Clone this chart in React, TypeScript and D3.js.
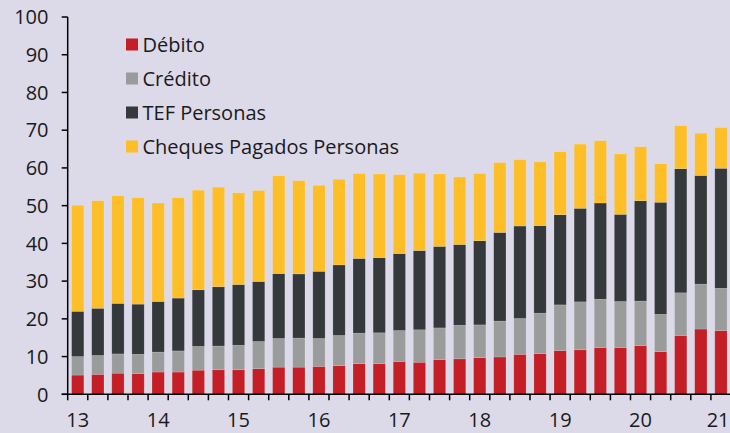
import React from "react";
import * as d3 from "d3";

const W = 730;
const H = 433;

const years = ["13", "14", "15", "16", "17", "18", "19", "20", "21"];
// 33 quarterly bars (2013 Q1 … 2021 Q1)
const quarters: string[] = [];
for (let y = 13; y <= 21; y++) {
  for (let q = 1; q <= 4; q++) {
    if (y === 21 && q > 1) break;
    quarters.push(`${y}-Q${q}`);
  }
}

const debito = [5.1, 5.3, 5.6, 5.5, 5.9, 5.9, 6.4, 6.5, 6.5, 6.8, 7.2, 7.2, 7.4, 7.6, 8.1, 8.1, 8.7, 8.5, 9.2, 9.4, 9.7, 9.9, 10.6, 10.8, 11.6, 11.8, 12.4, 12.4, 12.9, 11.3, 15.6, 17.3, 16.9];
const credito = [4.9, 5.0, 5.1, 5.1, 5.3, 5.6, 6.3, 6.3, 6.5, 7.2, 7.6, 7.7, 7.4, 8.0, 8.1, 8.2, 8.2, 8.6, 8.4, 8.9, 8.7, 9.5, 9.5, 10.7, 12.1, 12.7, 12.8, 12.2, 11.8, 9.9, 11.3, 11.9, 11.2];
const tef = [12.0, 12.5, 13.4, 13.3, 13.4, 14.0, 15.0, 15.7, 16.1, 15.9, 17.2, 17.0, 17.8, 18.7, 19.8, 19.9, 20.4, 21.0, 21.6, 21.4, 22.3, 23.5, 24.5, 23.2, 23.9, 24.8, 25.5, 23.1, 26.6, 29.7, 32.9, 28.8, 31.8];
const cheques = [28.1, 28.5, 28.5, 28.2, 26.1, 26.6, 26.4, 26.4, 24.3, 24.1, 25.9, 24.7, 22.8, 22.7, 22.5, 22.2, 20.9, 20.5, 19.2, 17.9, 17.8, 18.5, 17.6, 16.9, 16.7, 17.0, 16.5, 16.0, 14.3, 10.2, 11.4, 11.2, 10.8];

const seriesNames = ["Débito", "Crédito", "TEF Personas", "Cheques Pagados Personas"];
const seriesKeys = ["debito", "credito", "tef", "cheques"];
const colors = ["#c41f26", "#9a9c9c", "#36393c", "#fdbe28"];
const yTicks = [0, 10, 20, 30, 40, 50, 60, 70, 80, 90, 100];

const FONT = "'Open Sans', 'Noto Sans', sans-serif";

export default function App() {
  const left = 67.7;
  const bw = 20.1;
  const right = left + bw * quarters.length;
  const top = 17;
  const bottom = 394.3;

  const x = d3.scaleBand<string>().domain(quarters).range([left, right]).paddingInner(0.39).paddingOuter(0.195);
  const y = d3.scaleLinear().domain([0, 100]).range([bottom, top]);

  const rows = quarters.map((q, i) => ({
    q,
    debito: debito[i],
    credito: credito[i],
    tef: tef[i],
    cheques: cheques[i],
  }));
  const stacked = d3.stack<any>().keys(seriesKeys)(rows);

  const step = x.step();
  const boundaries = quarters.map((q) => (x(q) as number) - (step - x.bandwidth()) / 2);
  boundaries.push(right);

  return (
    <svg
      width={W}
      height={H}
      style={{ position: "fixed", left: 0, top: 0, background: "#dcd9e9", display: "block" }}
      fontFamily={FONT}
    >
      <rect x={0} y={0} width={W} height={H} fill="#dcd9e9" />
      {stacked.map((s, si) => (
        <g key={s.key} fill={colors[si]}>
          {s.map((d, i) => (
            <rect
              key={i}
              x={x(quarters[i])}
              y={y(d[1])}
              width={x.bandwidth()}
              height={y(d[0]) - y(d[1])}
              stroke="#ffffff"
              strokeOpacity={0.25}
              strokeWidth={0.6}
            />
          ))}
        </g>
      ))}
      {/* y axis */}
      <line x1={left} x2={left} y1={top} y2={bottom} stroke="#000" strokeWidth={1.5} />
      {yTicks.map((t) => (
        <g key={t}>
          <line x1={left - 6} x2={left} y1={y(t)} y2={y(t)} stroke="#000" strokeWidth={1.5} />
          <text x={48.5} y={y(t)} dy="0.36em" textAnchor="end" fontSize={20} fill="#1a1a1a">
            {t}
          </text>
        </g>
      ))}
      {/* x axis */}
      <line x1={left - 6} x2={W} y1={bottom} y2={bottom} stroke="#000" strokeWidth={1.5} />
      {boundaries.map((b, i) => (
        <line key={i} x1={b} x2={b} y1={bottom} y2={bottom + 6} stroke="#000" strokeWidth={1.5} />
      ))}
      {years.map((yr, yi) => {
        const q = `${yr}-Q1`;
        const cx = (x(q) as number) + x.bandwidth() / 2;
        const last = yi === years.length - 1;
        return (
          <text
            key={yr}
            x={last ? Math.min(cx + 11.5, W - 0.5) : cx}
            y={426.5}
            textAnchor={last ? "end" : "middle"}
            fontSize={20}
            fill="#1a1a1a"
          >
            {yr}
          </text>
        );
      })}
      {/* legend */}
      {seriesNames.map((n, i) => {
        const cy = 44.5 + i * 34;
        return (
          <g key={n}>
            <rect x={126} y={cy - 6} width={12} height={12} fill={colors[i]} />
            <text x={142.5} y={cy} dy="0.36em" fontSize={20} fill="#1a1a1a">
              {n}
            </text>
          </g>
        );
      })}
    </svg>
  );
}
